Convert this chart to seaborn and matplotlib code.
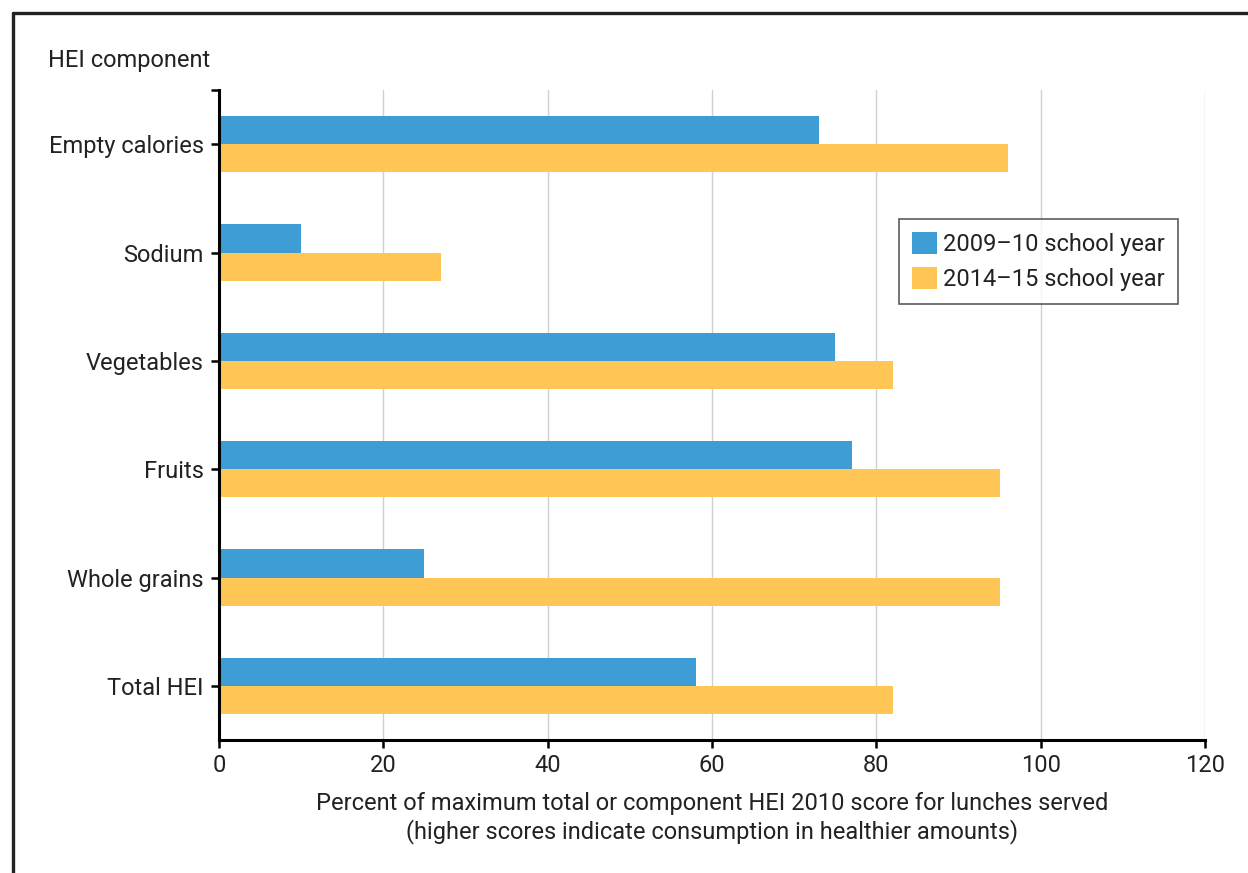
import matplotlib
matplotlib.use("Agg")
import matplotlib.pyplot as plt
import pandas as pd
import seaborn as sns
from matplotlib.lines import Line2D

components = ["Empty calories", "Sodium", "Vegetables", "Fruits", "Whole grains", "Total HEI"]
years = ["2009\u201310 school year", "2014\u201315 school year"]
score_2009 = [73, 10, 75, 77, 25, 58]
score_2014 = [96, 27, 82, 95, 95, 82]
colors = ["#3d9dd4", "#ffc655"]
x_ticks = [0, 20, 40, 60, 80, 100, 120]

FS = 17


def main():
    sns.set_theme(style="white")
    plt.rcParams['font.family'] = ['Roboto', 'DejaVu Sans']

    df = pd.DataFrame({
        "component": components * 2,
        "year": [years[0]] * len(components) + [years[1]] * len(components),
        "score": score_2009 + score_2014,
    })

    fig = plt.figure(figsize=(12.48, 8.73), dpi=100)
    ax = fig.add_axes([219 / 1248, 1 - 740 / 873, 986 / 1248, 650 / 873])

    sns.barplot(data=df, y="component", x="score", hue="year", order=components,
                hue_order=years, palette=colors, orient="h", width=0.52,
                saturation=1, linewidth=0, ax=ax)

    ax.set_xlim(0, 120)
    ax.set_ylim(5.5, -0.5)
    ax.set_xticks(x_ticks)
    ax.set_yticks(range(len(components)))
    ax.set_yticklabels(components)
    ax.set_yticks([-0.5], minor=True)
    ax.xaxis.grid(True, color="#d0d0d0", linewidth=1)
    ax.set_axisbelow(True)
    for side in ["top", "right"]:
        ax.spines[side].set_visible(False)
    for side in ["left", "bottom"]:
        ax.spines[side].set_color("black")
        ax.spines[side].set_linewidth(2.2)
    ax.tick_params(axis="both", which="both", direction="out", length=6, width=1.8,
                   color="black", labelsize=FS, labelcolor="#222222", pad=5,
                   bottom=True, left=True)
    ax.tick_params(axis="y", which="both", length=6)
    ax.tick_params(axis="x", pad=4)

    ax.set_ylabel("")
    ax.set_xlabel("Percent of maximum total or component HEI 2010 score for lunches served\n"
                  "(higher scores indicate consumption in healthier amounts)",
                  fontsize=FS, color="#222222", labelpad=11, linespacing=1.2)

    fig.text(48 / 1248, 1 - 60 / 873, "HEI component", fontsize=FS,
             color="#222222", ha="left", va="center")

    leg = ax.legend(loc="upper right", bbox_to_anchor=((1178 - 219) / 986, (740 - 219) / 650),
                    borderaxespad=0, frameon=True, fancybox=False, fontsize=FS,
                    handlelength=1.08, handleheight=1.08, handletextpad=0.25,
                    labelspacing=0.45, borderpad=0.55)
    leg.get_frame().set_edgecolor("#333333")
    leg.get_frame().set_linewidth(1.2)
    for t in leg.get_texts():
        t.set_color("#222222")

    # outer frame (top and left edges)
    fig.add_artist(Line2D([13 / 1248, 1.01], [1 - 13 / 873, 1 - 13 / 873],
                          color="#222222", linewidth=2.4, transform=fig.transFigure))
    fig.add_artist(Line2D([13 / 1248, 13 / 1248], [1 - 13 / 873, -0.01],
                          color="#222222", linewidth=2.4, transform=fig.transFigure))

    fig.savefig("out.png", dpi=100)
    plt.close(fig)


if __name__ == '__main__':
    main()
